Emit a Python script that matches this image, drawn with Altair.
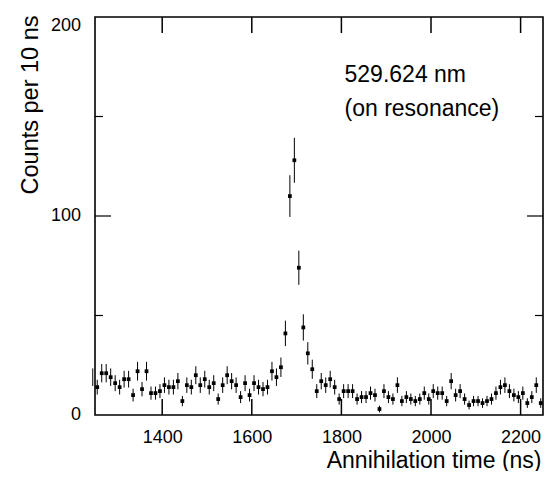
import altair as alt
import pandas as pd

# bin centres (ns), counts per 10 ns and their error bars
times = list(range(1255, 2250, 10))
counts = [14, 21, 21, 19, 16, 14, 18, 18, 10, 22,
          13, 22, 11, 11, 12, 15, 14, 14, 17, 7,
          15, 14, 20, 15, 18, 14, 16, 8, 15, 20,
          17, 15, 9, 16, 10, 16, 14, 13, 14, 22,
          19, 24, 41, 110, 128, 74, 44, 31, 23, 12,
          17, 15, 18, 14, 8, 12, 12, 12, 8, 9,
          9, 11, 10, 3, 12, 9, 8, 15, 7, 9,
          8, 7, 8, 11, 8, 12, 11, 11, 7, 17,
          10, 12, 8, 5, 7, 7, 6, 7, 8, 11,
          14, 15, 12, 10, 9, 11, 6, 9, 15, 6]
errors = [3.7, 4.6, 4.6, 4.4, 4.0, 3.7, 4.2, 4.2, 3.2, 4.7,
          3.6, 4.7, 3.3, 3.3, 3.5, 3.9, 3.7, 3.7, 4.1, 2.6,
          3.9, 3.7, 4.5, 3.9, 4.2, 3.7, 4.0, 2.8, 3.9, 4.5,
          4.1, 3.9, 3.0, 4.0, 3.2, 4.0, 3.7, 3.6, 3.7, 4.7,
          4.4, 4.9, 6.4, 10.5, 11.3, 8.6, 6.6, 5.6, 4.8, 3.5,
          4.1, 3.9, 4.2, 3.7, 2.8, 3.5, 3.5, 3.5, 2.8, 3.0,
          3.0, 3.3, 3.2, 1.7, 3.5, 3.0, 2.8, 3.9, 2.6, 3.0,
          2.8, 2.6, 2.8, 3.3, 2.8, 3.5, 3.3, 3.3, 2.6, 4.1,
          3.2, 3.5, 2.8, 2.2, 2.6, 2.6, 2.4, 2.6, 2.8, 3.3,
          3.7, 3.9, 3.5, 3.2, 3.0, 3.3, 2.4, 3.0, 3.9, 2.4]

# bins just outside the frame (only their error bars show)
edge_times = [1245, 2255]
edge_counts = [19, 15]
edge_errors = [4.4, 3.9]

x_ticks = [1400, 1600, 1800, 2000, 2200]
y_labels_mid = [0, 100]
y_labels_top = [200]
y_major = [100]
y_minor = [50, 150]

label_lines = ["529.624 nm", "(on resonance)"]
label_x = [1807, 1807]
label_y = [171, 154]

W, H = 448, 398
FONT = "Liberation Sans"

df = pd.DataFrame({"t": times, "c": counts, "e": errors})
df["lo"] = df["c"] - df["e"]
df["hi"] = df["c"] + df["e"]
edf = pd.DataFrame({"t": edge_times, "c": edge_counts, "e": edge_errors})
edf["lo"] = edf["c"] - edf["e"]
edf["hi"] = edf["c"] + edf["e"]

xs = alt.Scale(domain=[1250, 2250], nice=False, zero=False)
ys = alt.Scale(domain=[0, 200], nice=False, zero=False)

xaxis = alt.Axis(values=x_ticks, format="d", ticks=False, domain=False, grid=False,
                 labelFont=FONT, labelFontSize=18, labelColor="black", labelPadding=13,
                 titleFont=FONT, titleFontSize=23,
                 titleFontWeight="normal", titleColor="black", titleAlign="right",
                 titleX=W - 2, titleY=52, titleBaseline="alphabetic")
yaxis = alt.Axis(values=[0, 100, 200], labels=False, ticks=False, domain=False, grid=False,
                 titleFont=FONT, titleFontSize=23.5,
                 titleFontWeight="normal", titleColor="black", titleAngle=270,
                 titleAlign="right", titleX=-58, titleY=-2, titleBaseline="alphabetic")
XT = "Annihilation time (ns)"
YT = "Counts per 10 ns"


def X(field):
    return alt.X(field, scale=xs, axis=xaxis, title=XT)


def Y(field):
    return alt.Y(field, scale=ys, axis=yaxis, title=YT)


bars = alt.Chart(df).mark_rule(color="black", strokeWidth=1).encode(
    x=X("t:Q"), y=Y("lo:Q"), y2="hi:Q")
edge_bars = alt.Chart(edf).mark_rule(color="black", strokeWidth=1).encode(
    x=X("t:Q"), y=Y("lo:Q"), y2="hi:Q")
pts = alt.Chart(df).mark_square(color="black", size=14, opacity=1, filled=True).encode(
    x=X("t:Q"), y=Y("c:Q"))

xt = pd.DataFrame({"v": x_ticks})
bottom_ticks = alt.Chart(xt).mark_rule(color="black", strokeWidth=1.5).encode(
    x=X("v:Q"), y=alt.value(H), y2=alt.value(H - 16))
top_ticks = alt.Chart(xt).mark_rule(color="black", strokeWidth=1.5).encode(
    x=X("v:Q"), y=alt.value(0), y2=alt.value(16))

ymaj = pd.DataFrame({"v": y_major})
ymin = pd.DataFrame({"v": y_minor})
left_major = alt.Chart(ymaj).mark_rule(color="black", strokeWidth=1.2).encode(
    y=Y("v:Q"), x=alt.value(0), x2=alt.value(16))
left_minor = alt.Chart(ymin).mark_rule(color="black", strokeWidth=1.2).encode(
    y=Y("v:Q"), x=alt.value(0), x2=alt.value(8))
right_major = alt.Chart(ymaj).mark_rule(color="black", strokeWidth=1.2).encode(
    y=Y("v:Q"), x=alt.value(W), x2=alt.value(W - 16))
right_minor = alt.Chart(ymin).mark_rule(color="black", strokeWidth=1.2).encode(
    y=Y("v:Q"), x=alt.value(W), x2=alt.value(W - 8))

ylm = pd.DataFrame({"v": y_labels_mid})
ylt = pd.DataFrame({"v": y_labels_top})
ylab_mid = alt.Chart(ylm).mark_text(font=FONT, fontSize=18, align="right", baseline="middle",
                                    color="black").encode(
    y=Y("v:Q"), x=alt.value(-14), text=alt.Text("v:Q", format="d"))
ylab_top = alt.Chart(ylt).mark_text(font=FONT, fontSize=18, align="right", baseline="top",
                                    color="black").encode(
    y=Y("v:Q"), x=alt.value(-14), text=alt.Text("v:Q", format="d"))

tdf = pd.DataFrame({"x": label_x, "y": label_y, "s": label_lines})
texts = alt.Chart(tdf).mark_text(font=FONT, fontSize=23, align="left", baseline="middle",
                                 color="black").encode(
    x=X("x:Q"), y=Y("y:Q"), text="s:N")

chart = alt.layer(
    bars, edge_bars, pts, bottom_ticks, top_ticks,
    left_major, left_minor, right_major, right_minor, ylab_mid, ylab_top, texts
).properties(
    width=W, height=H,
    autosize=alt.AutoSizeParams(type="none"),
    padding={"left": 87, "top": 9, "right": 1, "bottom": 56},
    background="white",
).configure_view(stroke="black", strokeWidth=1.6)

chart.save("out.html", embed_options={"renderer": "svg", "actions": False})
